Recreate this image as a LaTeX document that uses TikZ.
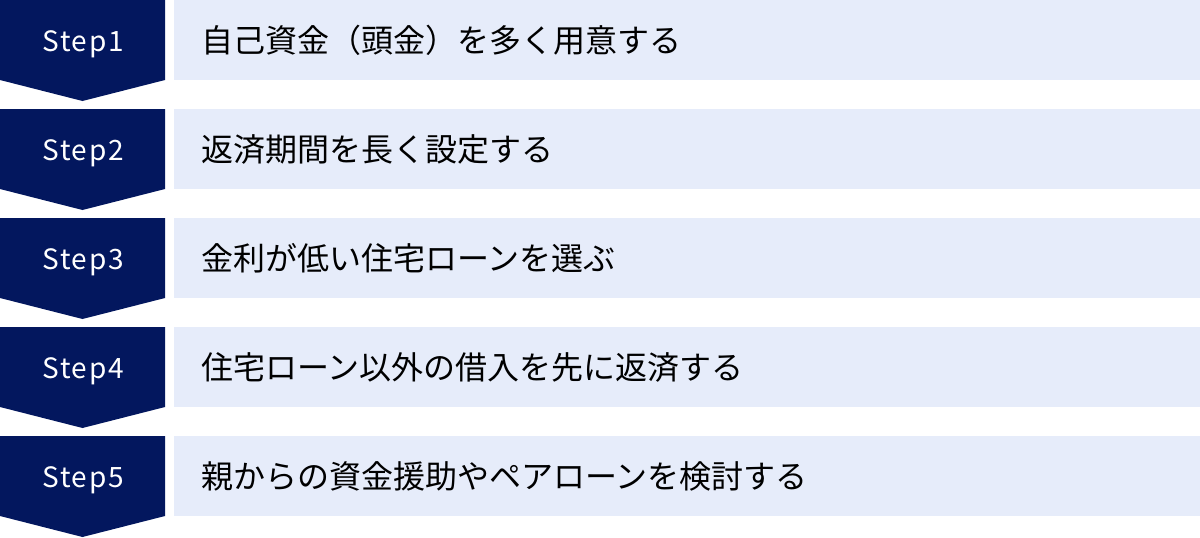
\documentclass[tikz,border=0pt]{standalone}
\usepackage{fontspec}
\setmainfont{Noto Sans CJK JP}
\newfontfamily\stepfont[LetterSpace=6]{Noto Sans CJK JP}
\definecolor{navy}{HTML}{03175E}
\definecolor{lightbox}{HTML}{E6ECFA}
\begin{document}
\begin{tikzpicture}[x=1pt,y=-1pt,
  stepshape/.style={fill=navy,draw=none},
  steplabel/.style={text=white,font=\stepfont\fontsize{28}{32}\selectfont,inner sep=0pt,anchor=base},
  itembox/.style={fill=lightbox,draw=none,minimum width=1026pt,minimum height=80pt,inner sep=0pt,anchor=north west},
  itemtext/.style={text=black,font=\fontsize{32}{36}\selectfont,inner sep=0pt,anchor=west}]
\useasboundingbox (0,0) rectangle (1200,538);
\foreach \i/\t in {1/{自己資金（頭金）を多く用意する},2/{返済期間を長く設定する},3/{金利が低い住宅ローンを選ぶ},4/{住宅ローン以外の借入を先に返済する},5/{親からの資金援助やペアローンを検討する}}{
  \pgfmathsetmacro{\top}{(\i-1)*109}
  \fill[stepshape] (0,\top) -- (165,\top) -- (165,\top+80) -- (82.5,\top+101) -- (0,\top+80) -- cycle;
  \node[steplabel] (s\i) at (83,\top+51) {Step\i};
  \node[itembox] (b\i) at (174,\top) {};
  \node[itemtext] (t\i) at (201,\top+40) {\t};
}
\end{tikzpicture}
\end{document}
